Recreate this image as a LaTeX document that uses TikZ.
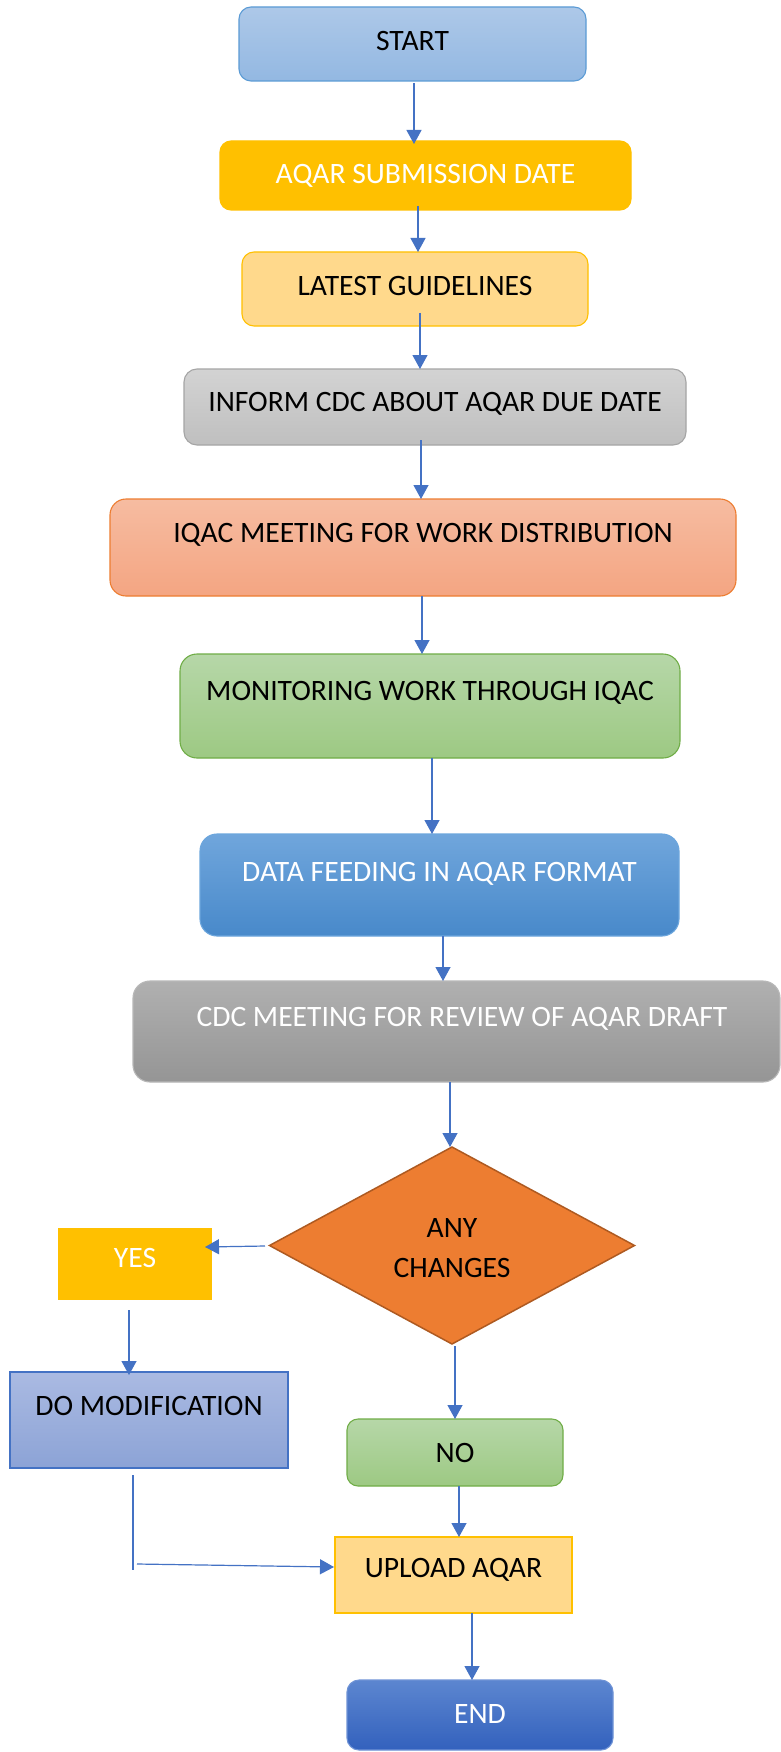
\documentclass[tikz,border=0pt]{standalone}
\usepackage{fontspec}
\setmainfont{Carlito}
\usetikzlibrary{arrows.meta,shapes.geometric,calc}

% palette
\definecolor{arrowblue}{HTML}{4472C4}
\definecolor{startTop}{HTML}{ADC8E8}
\definecolor{startBot}{HTML}{93B8E2}
\definecolor{startLine}{HTML}{5B9BD5}
\definecolor{gold}{HTML}{FFC000}
\definecolor{paleGold}{HTML}{FFD98C}
\definecolor{greyTop}{HTML}{D3D3D3}
\definecolor{greyBot}{HTML}{BFBFBF}
\definecolor{greyLine}{HTML}{A5A5A5}
\definecolor{salmonTop}{HTML}{F6BCA1}
\definecolor{salmonBot}{HTML}{F4A582}
\definecolor{salmonLine}{HTML}{ED7D31}
\definecolor{greenTop}{HTML}{B6D7A8}
\definecolor{greenBot}{HTML}{9DC983}
\definecolor{greenLine}{HTML}{70AD47}
\definecolor{dataTop}{HTML}{70A6DC}
\definecolor{dataBot}{HTML}{4889CA}
\definecolor{dataLine}{HTML}{6CA6DD}
\definecolor{cdcTop}{HTML}{B0B0B0}
\definecolor{cdcBot}{HTML}{959595}
\definecolor{cdcLine}{HTML}{B8B8B8}
\definecolor{orangeFill}{HTML}{ED7D31}
\definecolor{orangeLine}{HTML}{AE5A21}
\definecolor{modTop}{HTML}{AABAE2}
\definecolor{modBot}{HTML}{8CA3D6}
\definecolor{endTop}{HTML}{5C86D0}
\definecolor{endBot}{HTML}{3361BD}
\definecolor{endLine}{HTML}{6F93D6}

\begin{document}
\begin{tikzpicture}[x=1pt,y=-1pt,
  box/.style={rectangle,inner sep=0pt,outer sep=0pt,line width=1.1pt},
  rbox/.style={box,rounded corners=#1},
  lbl/.style={anchor=base,inner sep=0pt,font=\fontsize{29.6}{40}\selectfont},
  wlbl/.style={lbl,text=white},
  arr/.style={draw=arrowblue,line width=1.2pt,-{Triangle[length=14pt,width=15pt]}},
  link/.style={draw=arrowblue,line width=1.2pt}]

\fill[white] (0,0) rectangle (781,1752);
\useasboundingbox (0,0) rectangle (781,1752);

% main column of steps
\node[rbox=12pt,minimum width=347pt,minimum height=74pt,top color=startTop,bottom color=startBot,draw=startLine] (start) at (412.5,44) {};
\node[lbl] (tstart) at (412.5,50.5) {START};

\node[rbox=11pt,minimum width=411pt,minimum height=69pt,fill=gold,draw=gold] (aqar) at (425.5,175.5) {};
\node[wlbl] (taqar) at (425.5,184) {AQAR SUBMISSION DATE};

\node[rbox=12pt,minimum width=346pt,minimum height=74pt,fill=paleGold,draw=gold] (lat) at (415,289) {};
\node[lbl] (tlat) at (415,295.5) {LATEST GUIDELINES};

\node[rbox=13pt,minimum width=502pt,minimum height=76pt,top color=greyTop,bottom color=greyBot,draw=greyLine] (inf) at (435,407) {};
\node[lbl] (tinf) at (435,411) {INFORM CDC ABOUT AQAR DUE DATE};

\node[rbox=16pt,minimum width=626pt,minimum height=97pt,top color=salmonTop,bottom color=salmonBot,draw=salmonLine] (iqac) at (423,547.5) {};
\node[lbl] (tiqac) at (423,542.5) {IQAC MEETING FOR WORK DISTRIBUTION};

\node[rbox=17pt,minimum width=500pt,minimum height=104pt,top color=greenTop,bottom color=greenBot,draw=greenLine] (mon) at (430,706) {};
\node[lbl] (tmon) at (430,700) {MONITORING WORK THROUGH IQAC};

\node[rbox=17pt,minimum width=479pt,minimum height=102pt,top color=dataTop,bottom color=dataBot,draw=dataLine] (data) at (439.5,885) {};
\node[wlbl] (tdata) at (439.5,881) {DATA FEEDING IN AQAR FORMAT};

\node[rbox=17pt,minimum width=647pt,minimum height=101pt,top color=cdcTop,bottom color=cdcBot,draw=cdcLine] (cdc) at (456.5,1031.5) {};
\node[wlbl] (tcdc) at (462,1026) {CDC MEETING FOR REVIEW OF AQAR DRAFT};

% decision (base anchor of a two-line label sits on its last line)
\node[diamond,inner sep=0pt,outer sep=0pt,minimum width=365pt,minimum height=197pt,fill=orangeFill,draw=orangeLine,line width=1.5pt] (dia) at (452,1245.5) {};
\node[lbl,align=center,anchor=base] (tdia) at (452,1277) {ANY\\CHANGES};

% branches
\node[box,minimum width=152pt,minimum height=70pt,fill=gold,draw=gold] (yes) at (135,1264) {};
\node[wlbl] (tyes) at (135,1267.5) {YES};

\node[box,minimum width=278pt,minimum height=96pt,top color=modTop,bottom color=modBot,draw=arrowblue] (dom) at (149,1420) {};
\node[lbl] (tdom) at (149,1415) {DO MODIFICATION};

\node[rbox=11pt,minimum width=216pt,minimum height=67pt,top color=greenTop,bottom color=greenBot,draw=greenLine] (no) at (455,1452.5) {};
\node[lbl] (tno) at (455,1462) {NO};

\node[box,minimum width=237pt,minimum height=76pt,fill=paleGold,draw=gold] (up) at (453.5,1575) {};
\node[lbl] (tup) at (453.5,1577) {UPLOAD AQAR};

\node[rbox=12pt,minimum width=266pt,minimum height=70pt,top color=endTop,bottom color=endBot,draw=endLine] (end) at (480,1715) {};
\node[wlbl] (tend) at (480,1723) {END};

% loose ends of the modification return path
\coordinate (c1) at (133,1570);
\coordinate (c2) at (137,1564);

% connectors
\draw[arr] ($(start.south)+(1.5,2)$) -- ($(aqar.north)+(-11.5,3)$);
\draw[arr] ($(aqar.south)+(-7.5,-4)$) -- ($(lat.north)+(3,0)$);
\draw[arr] ($(lat.south)+(5,-13)$) -- ($(inf.north)+(-15,0)$);
\draw[arr] ($(inf.south)+(-14,-5)$) -- ($(iqac.north)+(-2,0)$);
\draw[arr] ($(iqac.south)+(-1,0)$) -- ($(mon.north)+(-8,0)$);
\draw[arr] ($(mon.south)+(2,0)$) -- ($(data.north)+(-7.5,0)$);
\draw[arr] ($(data.south)+(3.5,0)$) -- ($(cdc.north)+(-13.5,0)$);
\draw[arr] ($(cdc.south)+(-6.5,0)$) -- ($(dia.north)+(-2,0)$);
\draw[arr] ($(dia.west)+(-4.5,0.5)$) -- ($(yes.east)+(-6,-17)$);
\draw[arr] ($(yes.south)+(-6,11)$) -- ($(dom.north)+(-20,3)$);
\draw[arr] ($(dia.south)+(3,2)$) -- ($(no.north)+(0,0)$);
\draw[arr] ($(no.south)+(4,0)$) -- ($(up.north)+(5.5,0)$);
\draw[link] ($(dom.south)+(-16,7)$) -- (c1);
\draw[arr] (c2) -- ($(up.west)+(-1,-8)$);
\draw[arr] ($(up.south)+(18.5,0)$) -- ($(end.north)+(-8,0)$);

\end{tikzpicture}
\end{document}
